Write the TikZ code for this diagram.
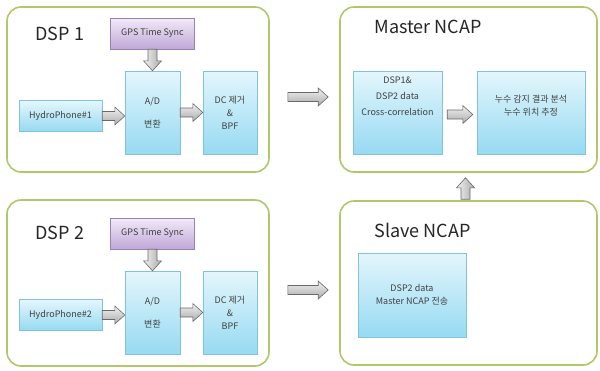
\documentclass[tikz,border=0pt]{standalone}
\usepackage{fontspec}
\setmainfont{Noto Sans CJK KR}
\usetikzlibrary{calc}

\definecolor{frameline}{RGB}{176,200,106}
\definecolor{boxtop}{RGB}{228,246,252}
\definecolor{boxbot}{RGB}{150,218,242}
\definecolor{boxline}{RGB}{130,195,220}
\definecolor{gpstop}{RGB}{242,234,247}
\definecolor{gpsbot}{RGB}{192,168,216}
\definecolor{gpsline}{RGB}{150,130,180}
\definecolor{arrtop}{RGB}{242,242,242}
\definecolor{arrbot}{RGB}{170,170,170}
\definecolor{arrline}{RGB}{105,105,105}

\tikzset{
  frame/.style={draw=frameline, line width=1.6pt, rounded corners=14pt, fill=white},
  title/.style={anchor=west, font=\fontsize{18}{21}\selectfont, text=black!85},
  box/.style={draw=boxline, top color=boxtop, bottom color=boxbot, align=center,
    inner sep=1pt, font=\fontsize{9}{13}\selectfont, text=black!75},
  gps/.style={box, draw=gpsline, top color=gpstop, bottom color=gpsbot},
}

% block arrow from #2 to #3
\newcommand\blockarrow[3][]{%
  \path[draw=arrline, line width=0.6pt, top color=arrtop, bottom color=arrbot, #1]
    ($(#2)!4.5pt!90:(#3)$) --
    ($($(#3)!10pt!(#2)$)!4.5pt!90:(#3)$) --
    ($($(#3)!10pt!(#2)$)!9pt!90:(#3)$) --
    (#3) --
    ($($(#3)!10pt!(#2)$)!9pt!-90:(#3)$) --
    ($($(#3)!10pt!(#2)$)!4.5pt!-90:(#3)$) --
    ($(#2)!4.5pt!-90:(#3)$) -- cycle;
}

\begin{document}
\begin{tikzpicture}[x=1pt, y=-1pt]
  \useasboundingbox (0,0) rectangle (600,370);

  % DSP 1
  \node[frame, minimum width=262pt, minimum height=165pt] (dspone) at (138,89.5) {};
  \node[title] (dsponetitle) at (32,34) {DSP 1};
  \node[gps, minimum width=84pt, minimum height=31pt] (gpsone) at (152.5,33.5) {GPS Time Sync};
  \node[box, minimum width=55pt, minimum height=83pt] (adone) at (152.5,112.5) {A/D\\[10pt]변환};
  \node[box, minimum width=83pt, minimum height=31pt] (hydroone) at (60.5,116) {HydroPhone\#1};
  \node[box, minimum width=54pt, minimum height=83pt] (dcone) at (230,112.5) {DC 제거\\\&\\BPF};
  \blockarrow{hydroone.east}{hydroone.east -| adone.west}
  \blockarrow{adone.east}{dcone.west}
  \blockarrow[left color=arrtop, right color=arrbot]{gpsone.south}{adone.north}

  % DSP 2
  \node[frame, minimum width=262pt, minimum height=166pt] (dsptwo) at (138,283) {};
  \node[title] (dsptwotitle) at (32,233) {DSP 2};
  \node[gps, minimum width=84pt, minimum height=31pt] (gpstwo) at (152.5,233.5) {GPS Time Sync};
  \node[box, minimum width=55pt, minimum height=83pt] (adtwo) at (152.5,312.5) {A/D\\[10pt]변환};
  \node[box, minimum width=83pt, minimum height=31pt] (hydrotwo) at (60.5,315) {HydroPhone\#2};
  \node[box, minimum width=54pt, minimum height=83pt] (dctwo) at (230,312.5) {DC 제거\\\&\\BPF};
  \blockarrow{hydrotwo.east}{hydrotwo.east -| adtwo.west}
  \blockarrow{adtwo.east}{dctwo.west}
  \blockarrow[left color=arrtop, right color=arrbot]{gpstwo.south}{adtwo.north}

  % Master NCAP
  \node[frame, minimum width=257pt, minimum height=165pt] (master) at (468.5,89.5) {};
  \node[title] (mastertitle) at (371,27) {Master NCAP};
  \node[box, minimum width=89pt, minimum height=83pt, text depth=32pt,
    font=\fontsize{9}{16}\selectfont] (xcorr) at (397.5,112.5)
    {DSP1\&\\DSP2 data\\Cross-correlation};
  \node[box, minimum width=108pt, minimum height=83pt, text depth=14pt] (leak) at (531,112.5)
    {누수 감지 결과 분석\\누수 위치 추정};
  \coordinate (xcorrout) at ($(xcorr.east)+(5,2)$);
  \coordinate (leakin) at ($(leak.west)+(-4,2)$);
  \blockarrow{xcorrout}{leakin}

  % Slave NCAP
  \node[frame, minimum width=257pt, minimum height=164pt] (slave) at (468.5,283) {};
  \node[title] (slavetitle) at (371,230) {Slave NCAP};
  \node[box, minimum width=108pt, minimum height=84pt] (relay) at (412,295)
    {DSP2 data\\Master NCAP 전송};

  % links between the blocks
  \coordinate (dsponeout) at ($(dspone.east)+(18,7.5)$);
  \coordinate (masterin) at ($(master.west)+(-11,7.5)$);
  \coordinate (dsptwoout) at ($(dsptwo.east)+(18,7)$);
  \coordinate (slavein) at ($(slave.west)+(-11,7)$);
  \coordinate (slaveout) at ($(slave.north)+(-3,-1)$);
  \coordinate (masterup) at ($(master.south)+(-3,5)$);
  \blockarrow{dsponeout}{masterin}
  \blockarrow{dsptwoout}{slavein}
  \blockarrow[left color=arrtop, right color=arrbot]{slaveout}{masterup}
\end{tikzpicture}
\end{document}
